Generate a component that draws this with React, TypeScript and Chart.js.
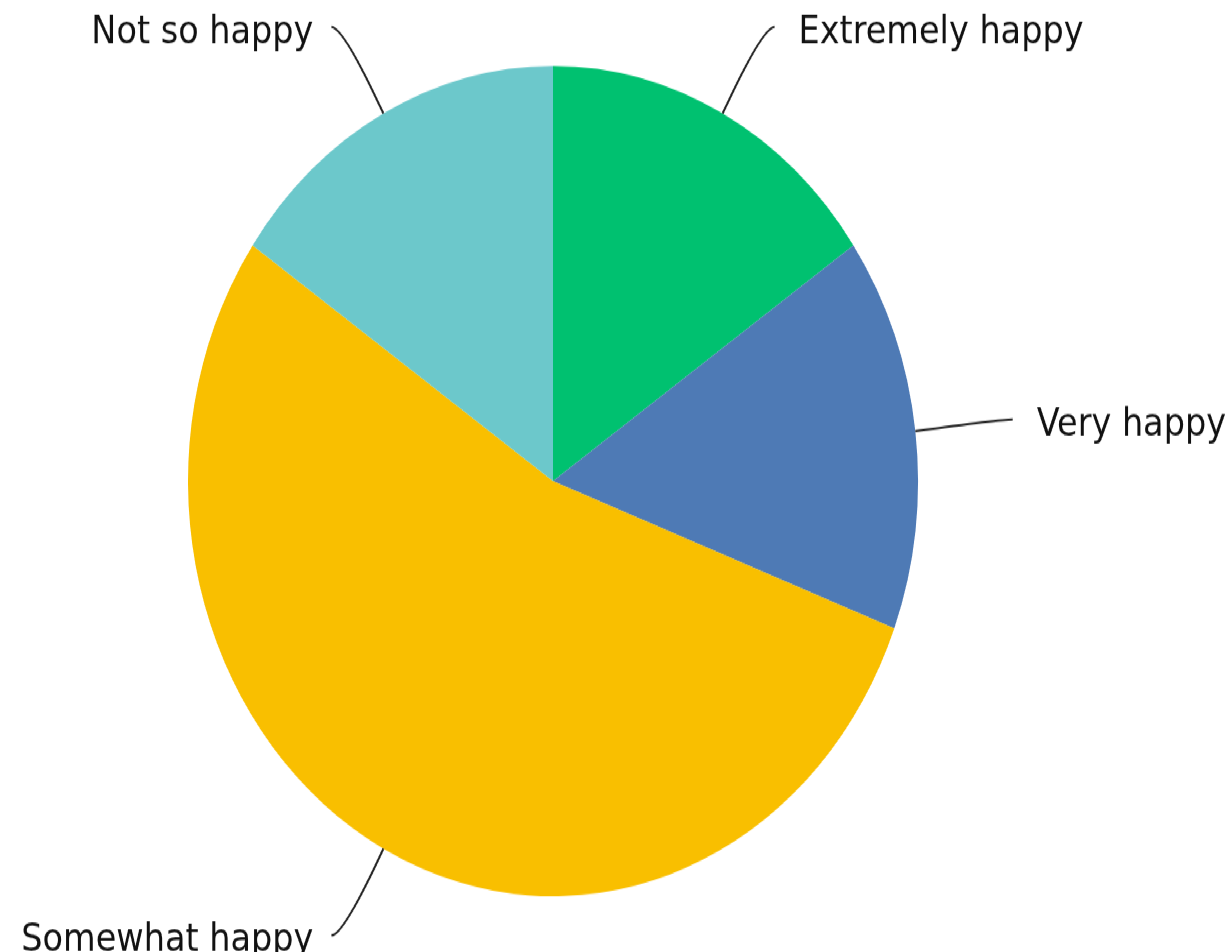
import { useEffect, useRef } from 'react';
import { Chart, registerables } from 'chart.js';

Chart.register(...registerables);

const categories = ['Extremely happy', 'Very happy', 'Somewhat happy', 'Not so happy'];
const values = [2, 2, 7, 2];
const colors = ['#00C170', '#4E7AB5', '#F9BF00', '#6CC8CB'];

const W = 1230;
const H = 837;
const SCALE_Y = 952 / H;

const leaderPlugin = {
  id: 'leaders',
  afterDraw(chart: any) {
    const ctx = chart.ctx as CanvasRenderingContext2D;
    const meta = chart.getDatasetMeta(0);
    ctx.save();
    meta.data.forEach((arc: any, i: number) => {
      const { x, y, startAngle, endAngle, outerRadius } = arc.getProps(
        ['x', 'y', 'startAngle', 'endAngle', 'outerRadius'],
        true
      );
      const mid = (startAngle + endAngle) / 2;
      const dx = Math.cos(mid);
      const dy = Math.sin(mid);
      const sx = x + dx * outerRadius;
      const sy = y + dy * outerRadius;
      const cx = sx + dx * 86;
      const cy = sy + dy * 86;
      const side = dx >= 0 ? 1 : -1;
      const ex = cx + side * 12;
      const ey = cy;
      ctx.beginPath();
      ctx.moveTo(sx, sy);
      ctx.quadraticCurveTo(cx, cy, ex, ey);
      ctx.strokeStyle = '#222222';
      ctx.lineWidth = 2;
      ctx.stroke();
      ctx.font = '33.5px "DejaVu Sans"';
      ctx.fillStyle = '#111111';
      ctx.textAlign = side > 0 ? 'left' : 'right';
      ctx.textBaseline = 'alphabetic';
      ctx.fillText(chart.data.labels[i], ex + side * (side > 0 ? 24 : 18), ey + 14);
    });
    ctx.restore();
  },
};

export default function App() {
  const ref = useRef<HTMLCanvasElement | null>(null);
  useEffect(() => {
    if (!ref.current) return;
    const chart = new Chart(ref.current, {
      type: 'pie',
      data: {
        labels: categories,
        datasets: [
          {
            data: values,
            backgroundColor: colors,
            borderWidth: 0,
          },
        ],
      },
      options: {
        responsive: false,
        devicePixelRatio: 1,
        animation: false,
        layout: { padding: { left: 188, right: 312, top: 58, bottom: 49 } },
        plugins: {
          legend: { display: false },
          tooltip: { enabled: false },
        },
      },
      plugins: [leaderPlugin],
    });
    return () => chart.destroy();
  }, []);
  return (
    <div
      style={{
        position: 'absolute',
        left: 0,
        top: 0,
        width: W,
        height: H,
        transform: `scaleY(${SCALE_Y})`,
        transformOrigin: '0 0',
        background: '#ffffff',
      }}
    >
      <canvas ref={ref} width={W} height={H} style={{ display: 'block' }} />
    </div>
  );
}
